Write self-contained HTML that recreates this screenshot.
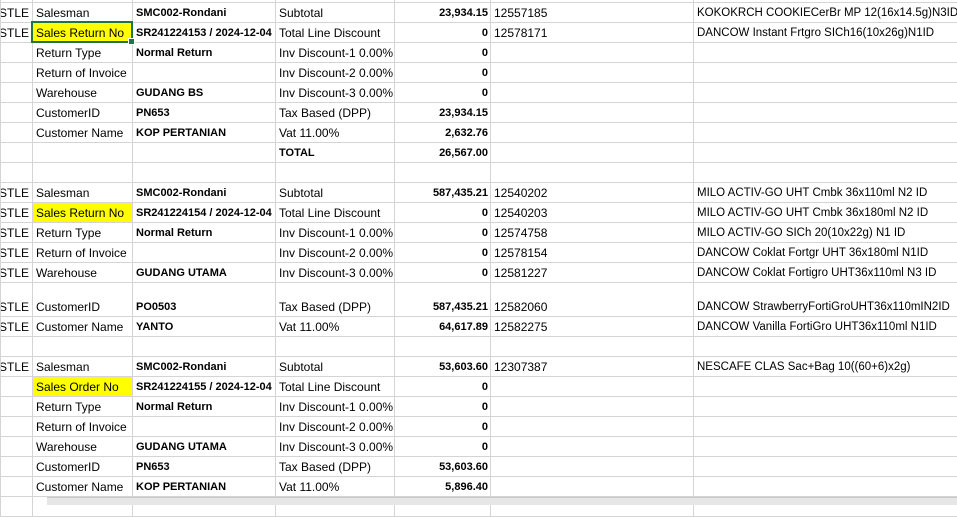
<!DOCTYPE html>
<html><head><meta charset="utf-8"><style>
body{margin:0;width:957px;height:504px;overflow:hidden;background:#fff;position:relative;font-family:"Liberation Sans",Arial,sans-serif;font-size:12px;color:#000}
table{position:absolute;left:0;top:-18px;border-collapse:collapse;table-layout:fixed;width:1000px}
td{border:1px solid #d4d4d4;height:17px;padding:0 3px 2px 3px;vertical-align:bottom;white-space:nowrap;overflow:hidden;line-height:14px}
td.c0{padding-left:0;text-indent:-2px}
td:last-child{font-size:11.5px}
.b{font-weight:bold;font-size:11px}
.r{text-align:right;padding-right:2px}
.y{background:#ffff00}
tr.t td{height:31px}
.sel{position:absolute;left:31px;top:21px;width:98px;height:18px;border:2px solid #217346}
.h{position:absolute;left:128px;top:38px;width:5px;height:5px;background:#217346;border:1px solid #fff}
.bar{position:absolute;left:47px;top:497px;width:910px;height:7px;background:#e6e6e6;border-top:1px solid #c8c8c8}
</style></head><body>
<table>
<colgroup><col style="width:32px"><col style="width:100px"><col style="width:143px"><col style="width:119px"><col style="width:96px"><col style="width:203px"><col style="width:307px"></colgroup>
<tr><td class="c0"></td><td></td><td></td><td></td><td></td><td></td><td></td></tr>
<tr><td class="c0">STLE</td><td>Salesman</td><td class="b">SMC002-Rondani</td><td>Subtotal</td><td class="b r">23,934.15</td><td>12557185</td><td>KOKOKRCH COOKIECerBr MP 12(16x14.5g)N3ID</td></tr>
<tr><td class="c0">STLE</td><td class="y">Sales Return No</td><td class="b">SR241224153 / 2024-12-04</td><td>Total Line Discount</td><td class="b r">0</td><td>12578171</td><td>DANCOW Instant Frtgro SICh16(10x26g)N1ID</td></tr>
<tr><td class="c0"></td><td>Return Type</td><td class="b">Normal Return</td><td>Inv Discount-1 0.00%</td><td class="b r">0</td><td></td><td></td></tr>
<tr><td class="c0"></td><td>Return of Invoice</td><td></td><td>Inv Discount-2 0.00%</td><td class="b r">0</td><td></td><td></td></tr>
<tr><td class="c0"></td><td>Warehouse</td><td class="b">GUDANG BS</td><td>Inv Discount-3 0.00%</td><td class="b r">0</td><td></td><td></td></tr>
<tr><td class="c0"></td><td>CustomerID</td><td class="b">PN653</td><td>Tax Based (DPP)</td><td class="b r">23,934.15</td><td></td><td></td></tr>
<tr><td class="c0"></td><td>Customer Name</td><td class="b">KOP PERTANIAN</td><td>Vat 11.00%</td><td class="b r">2,632.76</td><td></td><td></td></tr>
<tr><td class="c0"></td><td></td><td></td><td class="b">TOTAL</td><td class="b r">26,567.00</td><td></td><td></td></tr>
<tr><td class="c0"></td><td></td><td></td><td></td><td></td><td></td><td></td></tr>
<tr><td class="c0">STLE</td><td>Salesman</td><td class="b">SMC002-Rondani</td><td>Subtotal</td><td class="b r">587,435.21</td><td>12540202</td><td>MILO ACTIV-GO UHT Cmbk 36x110ml N2 ID</td></tr>
<tr><td class="c0">STLE</td><td class="y">Sales Return No</td><td class="b">SR241224154 / 2024-12-04</td><td>Total Line Discount</td><td class="b r">0</td><td>12540203</td><td>MILO ACTIV-GO UHT Cmbk 36x180ml N2 ID</td></tr>
<tr><td class="c0">STLE</td><td>Return Type</td><td class="b">Normal Return</td><td>Inv Discount-1 0.00%</td><td class="b r">0</td><td>12574758</td><td>MILO ACTIV-GO SICh 20(10x22g) N1 ID</td></tr>
<tr><td class="c0">STLE</td><td>Return of Invoice</td><td></td><td>Inv Discount-2 0.00%</td><td class="b r">0</td><td>12578154</td><td>DANCOW Coklat Fortgr UHT 36x180ml N1ID</td></tr>
<tr><td class="c0">STLE</td><td>Warehouse</td><td class="b">GUDANG UTAMA</td><td>Inv Discount-3 0.00%</td><td class="b r">0</td><td>12581227</td><td>DANCOW Coklat Fortigro UHT36x110ml N3 ID</td></tr>
<tr class="t"><td class="c0">STLE</td><td>CustomerID</td><td class="b">PO0503</td><td>Tax Based (DPP)</td><td class="b r">587,435.21</td><td>12582060</td><td>DANCOW StrawberryFortiGroUHT36x110mIN2ID</td></tr>
<tr><td class="c0">STLE</td><td>Customer Name</td><td class="b">YANTO</td><td>Vat 11.00%</td><td class="b r">64,617.89</td><td>12582275</td><td>DANCOW Vanilla FortiGro UHT36x110ml N1ID</td></tr>
<tr><td class="c0"></td><td></td><td></td><td></td><td></td><td></td><td></td></tr>
<tr><td class="c0">STLE</td><td>Salesman</td><td class="b">SMC002-Rondani</td><td>Subtotal</td><td class="b r">53,603.60</td><td>12307387</td><td>NESCAFE CLAS Sac+Bag 10((60+6)x2g)</td></tr>
<tr><td class="c0"></td><td class="y">Sales Order No</td><td class="b">SR241224155 / 2024-12-04</td><td>Total Line Discount</td><td class="b r">0</td><td></td><td></td></tr>
<tr><td class="c0"></td><td>Return Type</td><td class="b">Normal Return</td><td>Inv Discount-1 0.00%</td><td class="b r">0</td><td></td><td></td></tr>
<tr><td class="c0"></td><td>Return of Invoice</td><td></td><td>Inv Discount-2 0.00%</td><td class="b r">0</td><td></td><td></td></tr>
<tr><td class="c0"></td><td>Warehouse</td><td class="b">GUDANG UTAMA</td><td>Inv Discount-3 0.00%</td><td class="b r">0</td><td></td><td></td></tr>
<tr><td class="c0"></td><td>CustomerID</td><td class="b">PN653</td><td>Tax Based (DPP)</td><td class="b r">53,603.60</td><td></td><td></td></tr>
<tr><td class="c0"></td><td>Customer Name</td><td class="b">KOP PERTANIAN</td><td>Vat 11.00%</td><td class="b r">5,896.40</td><td></td><td></td></tr>
<tr><td class="c0"></td><td></td><td></td><td></td><td></td><td></td><td></td></tr>
</table>
<div class="sel"></div><div class="h"></div>
<div class="bar"></div>
</body></html>
